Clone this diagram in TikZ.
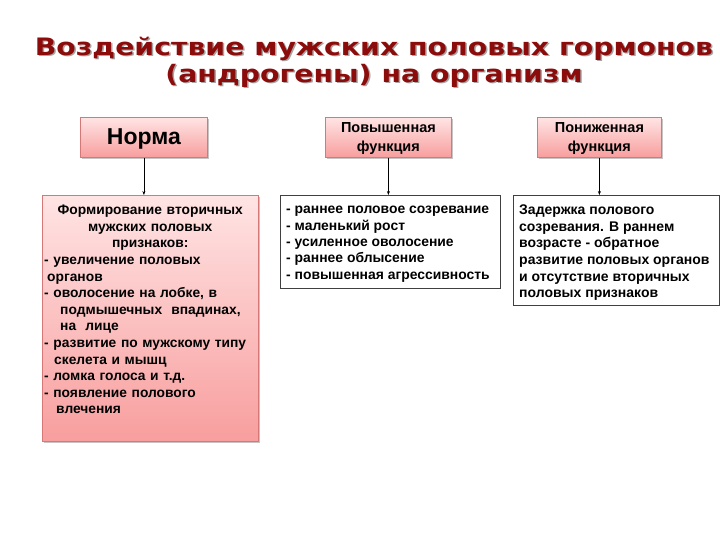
\documentclass[tikz,border=0pt]{standalone}
\usepackage{fontspec}
\setmainfont{Liberation Sans}
\newfontfamily\titlefont{DejaVu Sans}[BoldFont={DejaVu Sans Bold}]
\usetikzlibrary{arrows.meta,shadows}
\definecolor{titlered}{RGB}{140,12,12}
\definecolor{pinkborder}{RGB}{215,120,120}
\definecolor{pinktop}{RGB}{255,228,228}
\definecolor{pinkbot}{RGB}{248,158,158}
\tikzset{
  pinkbox/.style={draw=pinkborder, line width=0.8pt, top color=pinktop, bottom color=pinkbot,
    drop shadow={shadow xshift=1.5pt, shadow yshift=-2pt, fill=black!45, opacity=0.5},
    inner sep=0pt, anchor=north west},
  whitebox/.style={draw=black!75, line width=0.8pt, fill=white, inner sep=0pt, anchor=north west},
  txt/.style={inner sep=0pt, font=\bfseries\fontsize{13.9}{16.4}\selectfont},
  conn/.style={-{Stealth[length=4pt,width=3pt]}, line width=0.5pt, black},
  titletxt/.style={inner sep=0pt, font=\titlefont\bfseries\fontsize{24}{28}\selectfont, text=titlered}
}
\begin{document}
\begin{tikzpicture}[x=1pt,y=-1pt]
\useasboundingbox (0,0) rectangle (720,540);
% title
\node[titletxt, text=black!35] (t1s) at (375.5,50) {\scalebox{1.18}[1]{Воздействие мужских половых гормонов}};
\node[titletxt, text=black!35] (t2s) at (375.5,77) {\scalebox{1.18}[1]{(андрогены) на организм}};
\node[titletxt] (t1) at (374,48.5) {\scalebox{1.18}[1]{Воздействие мужских половых гормонов}};
\node[titletxt] (t2) at (374,75.5) {\scalebox{1.18}[1]{(андрогены) на организм}};
% headers
\node[pinkbox, minimum width=127pt, minimum height=40pt] (norma) at (80,117) {};
\node[inner sep=0pt, font=\bfseries\fontsize{23}{24}\selectfont] (normat) at ([yshift=-1.5pt]norma.center) {Норма};
\node[pinkbox, minimum width=126pt, minimum height=40pt] (pov) at (325,117) {};
\node[txt, align=center, font=\bfseries\fontsize{14.5}{19}\selectfont] (povt) at ([yshift=-1.5pt]pov.center) {Повышенная\\функция};
\node[pinkbox, minimum width=124pt, minimum height=40pt] (pon) at (537,117) {};
\node[txt, align=center, font=\bfseries\fontsize{14.5}{19}\selectfont] (pont) at ([yshift=-1.5pt]pon.center) {Пониженная\\функция};
% content boxes
\node[pinkbox, minimum width=216pt, minimum height=246pt] (left) at (42,195) {};
\node[whitebox, minimum width=220pt, minimum height=93pt] (mid) at (280,195) {};
\node[whitebox, minimum width=206pt, minimum height=110pt] (right) at (513,195) {};
% texts
\node[txt, anchor=north west, align=left, text width=212pt, font=\bfseries\fontsize{13.8}{16.6}\selectfont] (leftt) at (44,205) {%
\makebox[212pt][c]{Формирование вторичных}\\
\makebox[212pt][c]{мужских половых}\\
\makebox[212pt][c]{признаков:}\\
- увеличение половых\\
\hspace*{3pt}органов\\
- оволосение на лобке, в\\
\hspace*{16pt}подмышечных\ \ впадинах,\\
\hspace*{16pt}на\ \ лице\\
- развитие по мужскому типу\\
\hspace*{10pt}скелета и мышц\\
- ломка голоса и т.д.\\
- появление полового\\
\hspace*{12pt}влечения};
\node[txt, anchor=north west, align=left] (midt) at (286,206) {%
- раннее половое созревание\\
- маленький рост\\
- усиленное оволосение\\
- раннее облысение\\
- повышенная агрессивность};
\node[txt, anchor=north west, align=left, font=\bfseries\fontsize{14}{16.7}\selectfont] (rightt) at (519,204.5) {%
Задержка полового\\
созревания. В раннем\\
возрасте - обратное\\
развитие половых органов\\
и отсутствие вторичных\\
половых признаков};
% connectors
\draw[conn] (norma.south) -- (left.north -| norma.south);
\draw[conn] (pov.south) -- (mid.north -| pov.south);
\draw[conn] (pon.south) -- (right.north -| pon.south);
\end{tikzpicture}
\end{document}
